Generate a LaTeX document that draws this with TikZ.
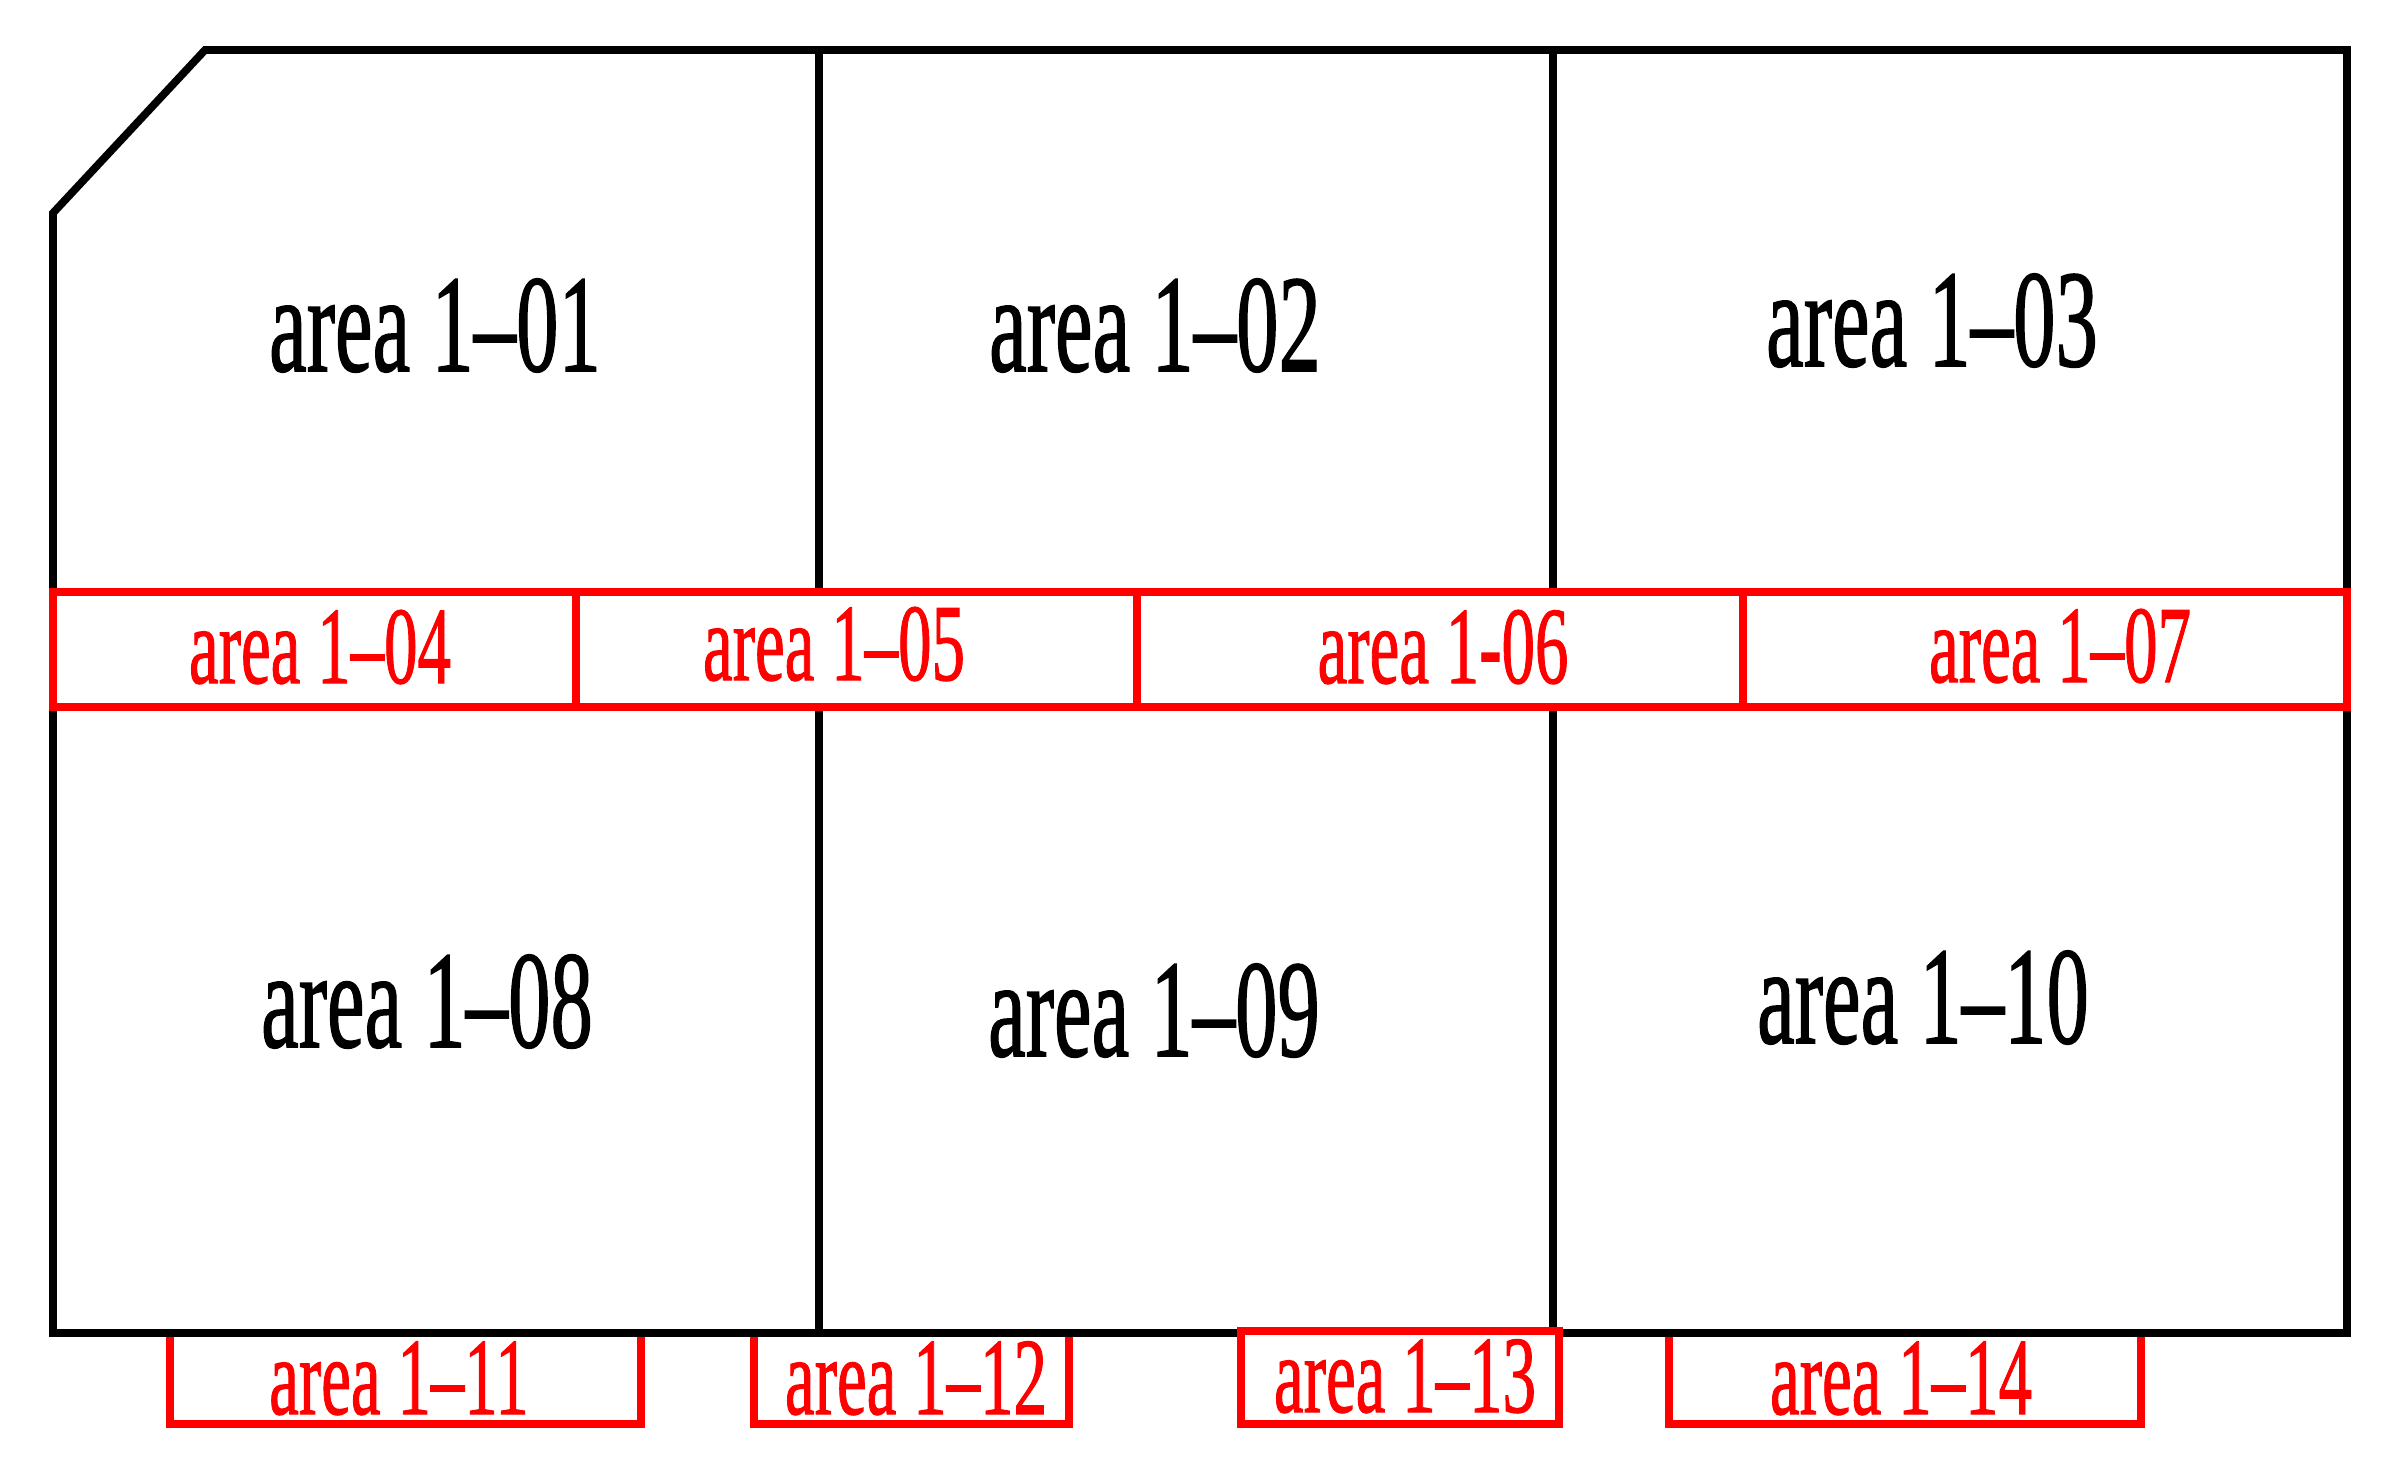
\documentclass[tikz,border=0pt]{standalone}
\usepackage{fontspec}
\usepackage{graphicx}
\newfontfamily\condserif{Liberation Serif}[FakeBold=1.2]
\newcommand{\cond}[1]{\scalebox{0.61}[1]{#1}}
\definecolor{pured}{RGB}{255,0,0}
\tikzset{
  wall/.style={line width=2.2pt, draw=black, line join=miter},
  redbox/.style={line width=2.2pt, draw=pured, fill=white},
  biglabel/.style={font=\condserif\fontsize{39.5}{40}\selectfont, anchor=base, inner sep=0pt, text=black},
  redlabel/.style={font=\condserif\fontsize{31.2}{32}\selectfont, anchor=base, inner sep=0pt, text=pured},
}
\begin{document}
\begin{tikzpicture}[x=0.01cm, y=-0.01cm]
\useasboundingbox (0,0) rectangle (2398,1469);
% bottom boxes under the outline
\draw[redbox] (170,1333) rectangle (641,1424);
\draw[redbox] (754,1333) rectangle (1069,1424);
\draw[redbox] (1669,1333) rectangle (2141,1424);
% outline and walls
\draw[wall] (53,213) -- (205,50) -- (2347,50) -- (2347,1333) -- (53,1333) -- cycle;
\draw[wall] (819,50) -- (819,1333);
\draw[wall] (1553,50) -- (1553,1333);
% box 13 over the outline
\draw[redbox] (1241,1331) rectangle (1559,1424);
% red band
\draw[redbox] (53,592) rectangle (2347,707);
\draw[redbox] (576,592) -- (576,707);
\draw[redbox] (1137,592) -- (1137,707);
\draw[redbox] (1743,592) -- (1743,707);
% labels
\node[biglabel] (a01) at (435,371) {\cond{area 1–01}};
\node[biglabel] (a02) at (1155,371) {\cond{area 1–02}};
\node[biglabel] (a03) at (1932,366) {\cond{area 1–03}};
\node[redlabel] (a04) at (320,683) {\cond{area 1–04}};
\node[redlabel] (a05) at (834,680) {\cond{area 1–05}};
\node[redlabel] (a06) at (1443,683) {\cond{area 1-06}};
\node[redlabel] (a07) at (2060,682) {\cond{area 1–07}};
\node[biglabel] (a08) at (427,1047) {\cond{area 1–08}};
\node[biglabel] (a09) at (1154,1056) {\cond{area 1–09}};
\node[biglabel] (a10) at (1923,1043) {\cond{area 1–10}};
\node[redlabel] (a11) at (399,1414) {\cond{area 1–11}};
\node[redlabel] (a12) at (916,1414) {\cond{area 1–12}};
\node[redlabel] (a13) at (1405,1412) {\cond{area 1–13}};
\node[redlabel] (a14) at (1901,1414) {\cond{area 1–14}};
\end{tikzpicture}
\end{document}
